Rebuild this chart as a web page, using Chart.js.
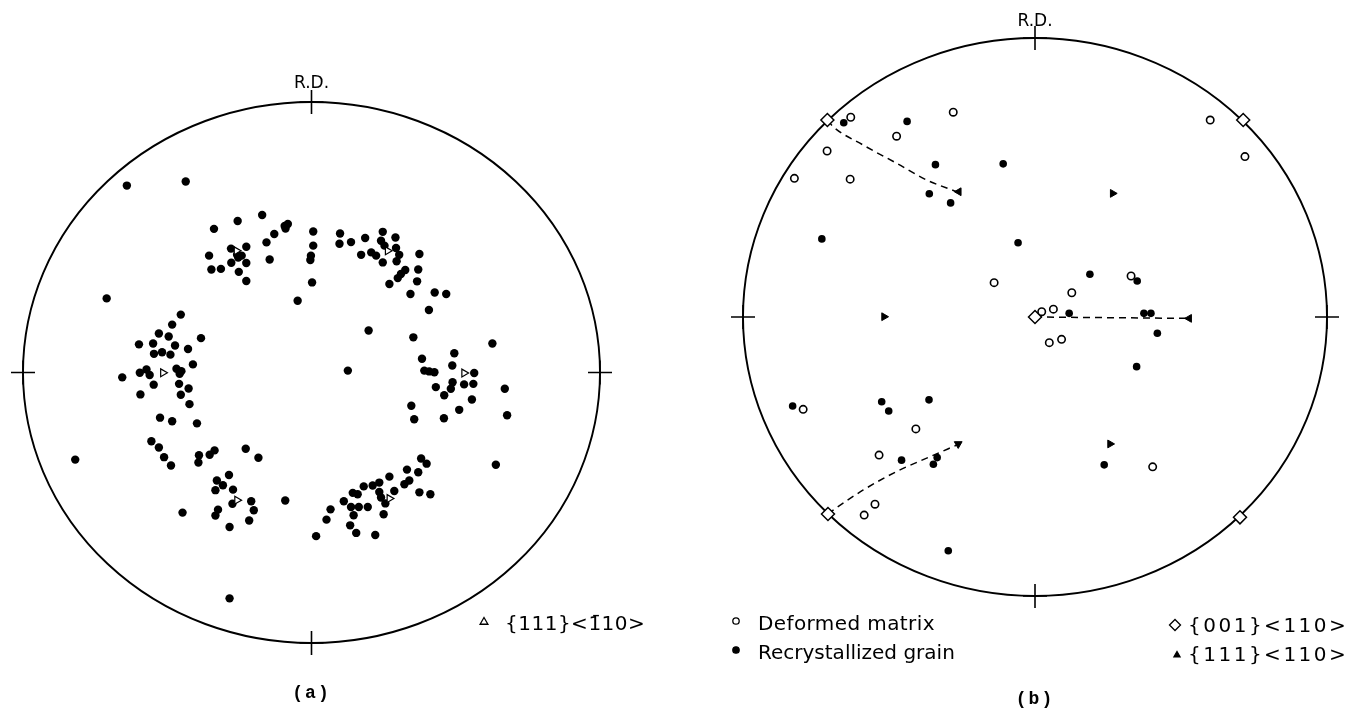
<!DOCTYPE html>
<html>
<head>
<meta charset="utf-8">
<title>Pole figures</title>
<script src="https://cdn.jsdelivr.net/npm/chart.js@4.4.1/dist/chart.umd.min.js"></script>
<style>
  html, body { margin: 0; padding: 0; background: #fff; }
  #wrap { position: relative; width: 1366px; height: 709px; overflow: hidden; }
  canvas { position: absolute; top: 0; }
  #chartA { left: 0; }
  #chartB { left: 683px; }
</style>
</head>
<body>
<div id="wrap">
  <canvas id="chartA" width="683" height="709"></canvas>
  <canvas id="chartB" width="683" height="709"></canvas>
</div>
<script>
// pole positions, in % of the projection radius (x to the right, y towards R.D.)

// (a) recrystallized grains
const grainsA = [
  [-64.0,69.1],[-43.6,70.6],[-71.0,27.4],[-33.8,53.1],[-25.6,56.0],[-17.1,58.2],[-9.3,54.2],[-8.2,54.9],
  [-9.0,53.2],[-12.9,51.2],[-15.6,48.1],[-14.5,41.8],[0.6,52.1],[0.6,46.9],[-0.2,43.2],[-0.4,41.6],
  [0.2,33.3],[-4.8,26.5],[-35.5,43.2],[-34.7,38.1],[-31.4,38.3],[-27.9,45.8],[-22.6,46.5],[-25.8,43.5],
  [-24.2,43.2],[-25.4,42.5],[-27.8,40.6],[-22.6,40.5],[-25.2,37.2],[-22.6,33.8],
  [-45.3,21.4],[-48.3,17.7],[-52.9,14.4],[-49.5,13.3],[-38.3,12.7],[-59.8,10.4],[-54.9,10.7],[-47.3,10.0],
  [-42.8,8.7],[-54.6,6.9],[-51.8,7.5],[-48.9,6.6],[-41.1,3.0],[-59.5,-0.1],[-57.2,1.1],[-56.1,-0.9],
  [-65.6,-1.8],[-46.8,1.4],[-45.1,0.5],[-45.7,-0.5],[-54.7,-4.5],[-59.3,-8.1],[-45.9,-4.2],[-42.6,-5.9],
  [-45.3,-8.2],[-42.3,-11.7],[-52.5,-16.7],[-48.3,-18.0],[-39.7,-18.8],
  [-55.5,-25.4],[-52.9,-27.7],[-51.1,-31.3],[-48.7,-34.4],[-39.0,-30.6],[-39.2,-33.3],[-35.3,-30.4],
  [-33.6,-28.8],[-22.8,-28.2],[-18.4,-31.5],[-81.9,-32.2],[-28.6,-37.9],[-32.8,-39.9],[-30.7,-41.7],
  [-33.3,-43.5],[-27.2,-43.3],[-27.4,-48.5],[-20.9,-47.6],[-20.0,-50.9],[-21.6,-54.7],[-32.4,-50.7],
  [-33.3,-52.9],[-44.7,-51.8],[-28.4,-57.1],[-9.1,-47.3],[1.6,-60.5],[-28.4,-83.5],
  [9.9,51.4],[9.7,47.6],[13.7,48.2],[18.6,49.7],[24.7,52.0],[29.1,49.9],[24.1,48.7],[25.3,46.9],
  [29.3,46.0],[17.2,43.5],[20.7,44.4],[22.4,43.2],[24.7,40.7],[30.4,43.5],[29.5,41.1],[37.4,43.8],
  [37.0,38.1],[32.5,37.9],[31.0,36.4],[29.9,34.9],[36.6,33.7],[27.0,32.7],[34.3,29.0],[42.7,29.6],
  [46.7,29.0],[40.7,23.1],[19.8,15.5],
  [35.3,13.0],[62.7,10.7],[49.5,7.1],[38.3,5.1],[48.8,2.6],[39.1,0.7],[40.8,0.4],[42.6,0.1],
  [12.6,0.7],[56.4,-0.2],[48.9,-3.6],[48.3,-6.0],[52.9,-4.4],[56.1,-4.2],[43.1,-5.4],[46.0,-8.4],
  [55.6,-10.0],[67.0,-6.0],[67.8,-15.8],[34.6,-12.3],[35.6,-17.3],[45.9,-16.9],[51.2,-13.8],[63.9,-34.1],
  [38.0,-31.8],[39.9,-33.7],[33.1,-35.9],[37.0,-36.9],[27.0,-38.5],[33.9,-39.9],[32.2,-41.3],[23.5,-40.7],
  [21.2,-41.8],[18.1,-42.1],[14.3,-44.5],[16.0,-45.0],[11.2,-47.6],[6.6,-50.6],[5.2,-54.4],[23.5,-44.2],
  [24.1,-46.2],[25.6,-48.4],[28.7,-43.8],[37.4,-44.3],[41.2,-45.0],[13.7,-49.7],[16.4,-49.7],[19.5,-49.7],
  [14.6,-52.8],[25.0,-52.4],[13.4,-56.5],[15.5,-59.3],[22.1,-60.1]
];
// (a) ideal {111}<110> positions
const idealA = [[-26.0,45.0],[26.4,45.0],[-51.5,-0.1],[52.9,-0.2],[-25.8,-47.2],[27.0,-46.6]];

// (b) deformed matrix
const matrixB = [
  [-63.1,71.6],[-28.0,73.4],[-47.4,64.8],[-71.2,59.5],[-82.4,49.7],[-63.3,49.4],[-14.0,12.3],
  [60.0,70.6],[71.9,57.5],[32.9,14.7],[12.6,8.7],[6.3,2.8],[2.3,1.9],[4.9,-9.2],[9.1,-8.0],
  [40.3,-53.7],[-79.4,-33.1],[-40.8,-40.1],[-53.4,-49.5],[-54.8,-67.1],[-58.5,-71.0]
];
// (b) recrystallized grains
const grainsB = [
  [-65.5,69.6],[-43.8,70.1],[-34.1,54.6],[-10.9,54.9],[-36.2,44.2],[-28.9,40.9],[-73.0,28.0],
  [-5.8,26.6],[18.8,15.3],[35.0,12.9],[11.7,1.3],[37.3,1.3],[39.7,1.3],[41.9,-5.8],[34.8,-17.8],
  [23.7,-53.0],[-83.0,-31.9],[-52.5,-30.4],[-36.3,-29.7],[-50.1,-33.7],[-45.7,-51.3],[-33.5,-50.4],
  [-34.8,-52.8],[-29.7,-83.8]
];
// (b) ideal {001}<110> and {111}<110> positions
const cubeB = [[-71.1,70.6],[71.3,70.6],[-70.9,-70.6],[70.2,-71.8],[0.0,0.0]];
const idealB = [[-26.1,44.9],[26.6,44.3],[-51.7,0.1],[52.8,-0.5],[-26.3,-45.5],[25.7,-45.5]];
const idealBTurn = [-90, 90, 90, -90, 60, 90];
// (b) rotation paths drawn as dashed arrows
const pathNW = [[-71.1,70.6],[-69.1,68.2],[-58.8,61.6],[-47.4,55.1],[-37.1,49.1],[-26.8,44.9]];
const pathC = [[0.0,0.0],[52.8,-0.5]];
const pathSW = [[-70.9,-70.6],[-69.1,-69.2],[-58.8,-62.0],[-47.4,-55.4],[-36.0,-50.1],[-26.8,-45.9]];

// texts
const dirLabel = "R.D.";
const captionA = "(a)";
const captionB = "(b)";
const labelIdeal111 = "{111}<1\u030410>";
const labelMatrix = "Deformed matrix";
const labelGrain = "Recrystallized grain";
const labelCube = "{001}<110>";
const labelIdeal = "{111}<110>";

const pts = arr => arr.map(p => ({ x: p[0], y: p[1] }));

// circle, R.D. crosses, caption and hand-drawn legend
const poleFrame = {
  id: "poleFrame",
  beforeDatasetsDraw(chart, args, opts) {
    const ctx = chart.ctx;
    const sx = chart.scales.x, sy = chart.scales.y;
    const cx = sx.getPixelForValue(0), cy = sy.getPixelForValue(0);
    const rx = sx.getPixelForValue(100) - cx, ry = cy - sy.getPixelForValue(100);
    ctx.save();
    ctx.strokeStyle = "#000";
    ctx.lineWidth = 1.9;
    ctx.beginPath();
    ctx.ellipse(cx, cy, rx, ry, 0, 0, Math.PI * 2);
    ctx.stroke();
    ctx.lineWidth = 1.6;
    [[cx, cy - ry], [cx, cy + ry], [cx - rx, cy], [cx + rx, cy]].forEach(([px, py]) => {
      ctx.beginPath();
      ctx.moveTo(px - 12, py); ctx.lineTo(px + 12, py);
      ctx.moveTo(px, py - 12); ctx.lineTo(px, py + 12);
      ctx.stroke();
    });
    ctx.restore();
  },
  afterDraw(chart, args, opts) {
    const ctx = chart.ctx;
    const sx = chart.scales.x, sy = chart.scales.y;
    const cx = sx.getPixelForValue(0);
    const top = sy.getPixelForValue(100);
    ctx.save();
    ctx.fillStyle = "#000";
    ctx.strokeStyle = "#000";
    ctx.textAlign = "center";
    ctx.textBaseline = "alphabetic";
    ctx.font = '17px "DejaVu Sans"';
    ctx.fillText(dirLabel, cx, top - opts.rdGap);
    ctx.font = 'bold 18px "Liberation Mono"';
    ctx.letterSpacing = "2px";
    ctx.fillText(opts.caption, cx, opts.captionY);
    ctx.textAlign = "left";
    ctx.font = '20px "DejaVu Sans"';
    opts.legend.forEach(item => {
      ctx.fillStyle = item.fill;
      ctx.lineWidth = 1.3;
      Chart.helpers.drawPoint(ctx, { pointStyle: item.style, radius: item.r, rotation: 0, borderWidth: 1.3 }, item.x, item.y);
      ctx.fillStyle = "#000";
      ctx.letterSpacing = item.spacing || "0px";
      ctx.fillText(item.text, item.tx, item.ty);
    });
    ctx.restore();
  }
};

function makeChart(id, datasets, padding, frame) {
  return new Chart(document.getElementById(id), {
    type: "scatter",
    data: { datasets: datasets },
    options: {
      responsive: false,
      animation: false,
      layout: { padding: padding },
      scales: {
        x: { type: "linear", min: -100, max: 100, display: false },
        y: { type: "linear", min: -100, max: 100, display: false }
      },
      plugins: {
        legend: { display: false },
        tooltip: { enabled: false },
        poleFrame: frame
      }
    },
    plugins: [poleFrame]
  });
}

makeChart("chartA", [
  {
    label: "{111}<110>",
    data: pts(idealA),
    pointStyle: "triangle",
    rotation: 90,
    pointRadius: 4.5,
    backgroundColor: "#fff",
    borderColor: "#000",
    borderWidth: 1.2,
    clip: false,
    order: 1
  },
  {
    label: "Recrystallized grain",
    data: pts(grainsA),
    pointStyle: "circle",
    pointRadius: 4.2,
    backgroundColor: "#000",
    borderColor: "#000",
    borderWidth: 0,
    clip: false,
    order: 2
  }
], { left: 23, right: 83, top: 102, bottom: 66 }, {
  rdGap: 14,
  caption: captionA,
  captionY: 698,
  legend: [
    { style: "triangle", r: 4.5, fill: "#fff", x: 484, y: 622, text: labelIdeal111, tx: 505, ty: 630, spacing: "0.5px" }
  ]
});

const dashed = data => ({
  data: pts(data),
  showLine: true,
  borderColor: "#000",
  borderWidth: 1.5,
  borderDash: [7, 5],
  cubicInterpolationMode: "monotone",
  pointRadius: 0,
  clip: false,
  order: 10
});

makeChart("chartB", [
  Object.assign(dashed(pathNW), { label: "path NW" }),
  Object.assign(dashed(pathC), { label: "path C" }),
  Object.assign(dashed(pathSW), { label: "path SW" }),
  {
    label: labelIdeal,
    data: pts(idealB),
    pointStyle: "triangle",
    rotation: idealBTurn,
    pointRadius: 4.5,
    backgroundColor: "#000",
    borderColor: "#000",
    borderWidth: 1,
    clip: false,
    order: 1
  },
  {
    label: labelCube,
    data: pts(cubeB),
    pointStyle: "rectRot",
    pointRadius: 6.5,
    backgroundColor: "#fff",
    borderColor: "#000",
    borderWidth: 1.5,
    clip: false,
    order: 2
  },
  {
    label: labelMatrix,
    data: pts(matrixB),
    pointStyle: "circle",
    pointRadius: 3.7,
    backgroundColor: "#fff",
    borderColor: "#000",
    borderWidth: 1.6,
    clip: false,
    order: 3
  },
  {
    label: labelGrain,
    data: pts(grainsB),
    pointStyle: "circle",
    pointRadius: 3.8,
    backgroundColor: "#000",
    borderColor: "#000",
    borderWidth: 0,
    clip: false,
    order: 4
  }
], { left: 60, right: 39, top: 38, bottom: 113 }, {
  rdGap: 12,
  caption: captionB,
  captionY: 704,
  legend: [
    { style: "circle", r: 3.2, fill: "#fff", x: 53, y: 621, text: labelMatrix, tx: 75, ty: 630, spacing: "0.4px" },
    { style: "circle", r: 3.2, fill: "#000", x: 53, y: 650, text: labelGrain, tx: 75, ty: 659 },
    { style: "rectRot", r: 5.5, fill: "#fff", x: 492, y: 625, text: labelCube, tx: 505, ty: 632, spacing: "2.5px" },
    { style: "triangle", r: 3.5, fill: "#000", x: 494, y: 655, text: labelIdeal, tx: 505, ty: 661, spacing: "2.5px" }
  ]
});
</script>
</body>
</html>
